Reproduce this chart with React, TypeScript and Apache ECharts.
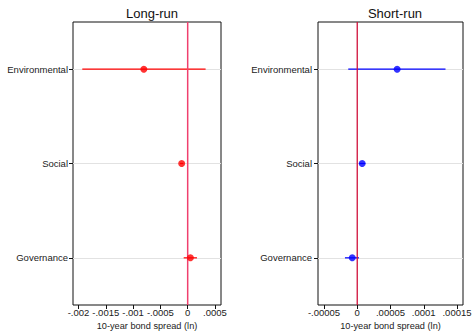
import React, { useEffect, useRef } from "react";
import * as echarts from "echarts";

const categories = ["Environmental", "Social", "Governance"];

const longCoef = [-0.000803, -0.00011, 0.00005];
const longLo = [-0.00193, -0.00014, -0.000073];
const longHi = [0.000328, -0.00008, 0.00017];

const shortCoef = [0.00006, 0.0000074, -0.0000075];
const shortLo = [-0.0000135, 0.000003, -0.0000185];
const shortHi = [0.0001327, 0.000012, 0.0000026];

const longTicks = [-0.002, -0.0015, -0.001, -0.0005, 0, 0.0005];
const shortTicks = [-0.00005, 0, 0.00005, 0.0001, 0.00015];

const fmt = (v: number) => {
  if (Math.abs(v) < 1e-12) return "0";
  const s = parseFloat(v.toPrecision(6)).toString();
  return s.replace("0.", ".");
};

const FONT = "Liberation Sans";

function buildPanel(idx: number, coef: number[], lo: number[], hi: number[], ticks: number[], min: number, max: number, color: string, zeroColor: string, zeroWidth: number) {
  const xAxis = {
    type: "value",
    gridIndex: idx,
    min,
    max,
    name: "10-year bond spread (ln)",
    nameLocation: "middle",
    nameGap: 13,
    nameTextStyle: { fontFamily: FONT, fontSize: 9.2, color: "#222" },
    axisLine: { show: false, onZero: false },
    axisTick: { show: true, length: 4, inside: false, customValues: ticks, lineStyle: { color: "#111" } },
    axisLabel: { show: true, customValues: ticks, formatter: fmt, margin: 2, fontFamily: FONT, fontSize: 9.5, color: "#222", showMinLabel: true, showMaxLabel: true },
    splitLine: { show: false },
  };
  const yAxis = {
    type: "category",
    gridIndex: idx,
    data: categories,
    inverse: true,
    boundaryGap: true,
    axisLine: { show: false, onZero: false },
    axisTick: { show: true, alignWithLabel: true, length: 4, lineStyle: { color: "#111" } },
    axisLabel: { margin: idx === 0 ? 5 : 6, fontFamily: FONT, fontSize: 9.5, color: "#222" },
    splitLine: { show: false },
  };
  const series = [
    {
      type: "scatter",
      xAxisIndex: idx,
      yAxisIndex: idx,
      data: [],
      z: 1,
      silent: true,
      markLine: {
        z: 1,
        silent: true,
        symbol: "none",
        label: { show: false },
        lineStyle: { color: "#e2e2e2", type: "solid", width: 1 },
        data: categories.map((c) => ({ yAxis: c })),
      },
    },
    {
      type: "custom",
      xAxisIndex: idx,
      yAxisIndex: idx,
      z: 2,
      silent: true,
      itemStyle: { color },
      encode: { x: [0, 1], y: 2 },
      data: categories.map((c, i) => [lo[i], hi[i], i]),
      renderItem: (params: any, api: any) => {
        const a = api.coord([api.value(0), api.value(2)]);
        const b = api.coord([api.value(1), api.value(2)]);
        return {
          type: "line",
          shape: { x1: a[0], y1: a[1], x2: b[0], y2: b[1] },
          style: { stroke: color, lineWidth: 1.2 },
        };
      },
    },
    {
      type: "custom",
      xAxisIndex: idx,
      yAxisIndex: idx,
      z: 3,
      silent: true,
      itemStyle: { color: zeroColor },
      encode: { x: 0, y: 1 },
      data: [[0, 0]],
      renderItem: (params: any, api: any) => {
        const cs = params.coordSys;
        const p = api.coord([0, 0]);
        return {
          type: "line",
          shape: { x1: p[0], y1: cs.y, x2: p[0], y2: cs.y + cs.height },
          style: { stroke: zeroColor, lineWidth: zeroWidth, opacity: 1 },
        };
      },
    },
    {
      type: "scatter",
      xAxisIndex: idx,
      yAxisIndex: idx,
      z: 4,
      symbol: "circle",
      symbolSize: 7,
      itemStyle: { color },
      data: categories.map((c, i) => [coef[i], c]),
    },
  ];
  return { xAxis, yAxis, series };
}

export default function App() {
  const ref = useRef<HTMLDivElement>(null);
  useEffect(() => {
    if (!ref.current) return;
    const chart = echarts.init(ref.current, null, { renderer: "svg" });
    const p1 = buildPanel(0, longCoef, longLo, longHi, longTicks, -0.0021, 0.00061, "#ff0000", "#f0406e", 1.5);
    const p2 = buildPanel(1, shortCoef, shortLo, shortHi, shortTicks, -0.000059, 0.000159, "#0000ff", "#d0103a", 1.3);
    chart.setOption({
      animation: false,
      backgroundColor: "#ffffff",
      title: [
        { text: "Long-run", left: 147, top: 2, textAlign: "center", textStyle: { fontFamily: FONT, fontSize: 13, fontWeight: "normal", color: "#111" } },
        { text: "Short-run", left: 390, top: 2, textAlign: "center", textStyle: { fontFamily: FONT, fontSize: 13, fontWeight: "normal", color: "#111" } },
      ],
      grid: [
        { left: 73, right: 252, top: 22, bottom: 26, outerBoundsMode: "none", containLabel: false, show: true, borderColor: "#111", borderWidth: 1, backgroundColor: "transparent" },
        { left: 318, right: 10, top: 22, bottom: 26, outerBoundsMode: "none", containLabel: false, show: true, borderColor: "#111", borderWidth: 1, backgroundColor: "transparent" },
      ],
      xAxis: [p1.xAxis, p2.xAxis],
      yAxis: [p1.yAxis, p2.yAxis],
      series: [...p1.series, ...p2.series],
    });
    return () => chart.dispose();
  }, []);
  return <div ref={ref} style={{ position: "fixed", left: 0, top: 0, width: 473, height: 331 }} />;
}
